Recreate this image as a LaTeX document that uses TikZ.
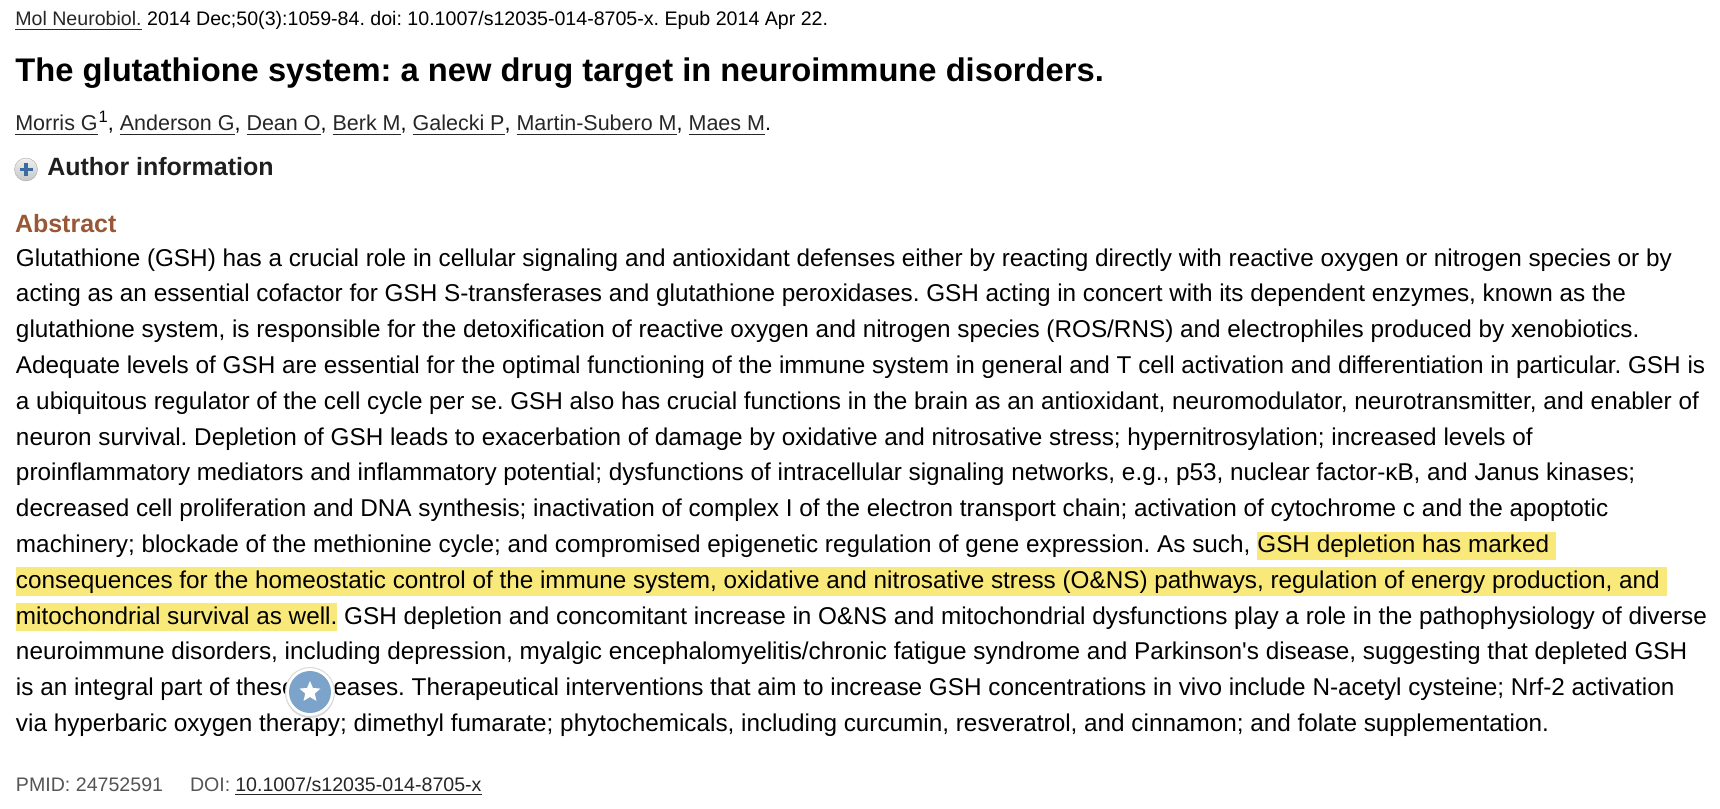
\documentclass[tikz,border=0pt]{standalone}
\usepackage{fontspec}
\setmainfont{Liberation Sans}[Ligatures=TeXOff]
\usetikzlibrary{shapes.geometric,shadows}
\definecolor{hl}{RGB}{249,233,122}
\definecolor{absbrown}{RGB}{152,87,53}
\definecolor{linkc}{RGB}{38,38,38}
\definecolor{greytxt}{RGB}{85,85,85}
\definecolor{badgeblue}{RGB}{124,163,201}
\definecolor{plusblue}{RGB}{58,108,160}
\frenchspacing
\begin{document}
\begin{tikzpicture}[x=1pt,y=-1pt,
  txt/.style={anchor=base west, inner sep=0pt, outer sep=0pt},
  jour/.style={txt, font=\fontsize{19.6}{19.6}\selectfont},
  ttl/.style={txt, font=\fontsize{32.7}{32.7}\selectfont\bfseries},
  auth/.style={txt, font=\fontsize{21.5}{21.5}\selectfont},
  head/.style={txt, font=\fontsize{25}{25}\selectfont\bfseries},
  body/.style={txt, font=\fontsize{24.3}{24.3}\selectfont},
  hilite/.style={body, fill=hl, text height=20.8pt, text depth=7.3pt},
  foot/.style={txt, font=\fontsize{19.6}{19.6}\selectfont},
  link/.style={text=linkc},
  ul/.style={draw=linkc, line width=1pt}
]
\useasboundingbox[fill=white] (0,0) rectangle (1720,808);

% journal line
\node[jour, link] (jl) at (15.3,26) {Mol Neurobiol.};
\draw[ul] ([yshift=-3.3pt]jl.base west) -- ([yshift=-3.3pt]jl.base east);
\node[jour] (jr) at (jl.base east) {~2014 Dec;50(3):1059-84. doi: 10.1007/s12035-014-8705-x. Epub 2014 Apr 22.};

% title
\node[ttl] (title) at (15.5,81.7) {The glutathione system: a new drug target in neuroimmune disorders.};

% authors
\node[auth, link] (a1) at (15.3,130) {Morris G};
\node[txt, font=\fontsize{16.5}{16.5}\selectfont] (a1s) at ([xshift=1pt,yshift=7.5pt]a1.base east) {1};
\node[auth] (c1) at (a1s.east |- a1.base) {,~\null};
\node[auth, link] (a2) at (c1.base east) {Anderson G};
\node[auth] (c2) at (a2.base east) {,~\null};
\node[auth, link] (a3) at (c2.base east) {Dean O};
\node[auth] (c3) at (a3.base east) {,~\null};
\node[auth, link] (a4) at (c3.base east) {Berk M};
\node[auth] (c4) at (a4.base east) {,~\null};
\node[auth, link] (a5) at (c4.base east) {Galecki P};
\node[auth] (c5) at (a5.base east) {,~\null};
\node[auth, link] (a6) at (c5.base east) {Martin-Subero M};
\node[auth] (c6) at (a6.base east) {,~\null};
\node[auth, link] (a7) at (c6.base east) {Maes M};
\node[auth] (c7) at (a7.base east) {.};
\foreach \n in {a1,a2,a3,a4,a5,a6,a7}
  \draw[ul] ([yshift=-4pt]\n.base west) -- ([yshift=-4pt]\n.base east);

% author information
\node[circle, draw=gray!65, top color=gray!12, bottom color=gray!45, minimum size=23pt, inner sep=0pt] (plusicon) at (26,169.5) {};
\draw[plusblue, line width=3.4pt] ([xshift=-6.5pt]plusicon.center) -- ([xshift=6.5pt]plusicon.center);
\draw[plusblue, line width=3.4pt] ([yshift=-6.5pt]plusicon.center) -- ([yshift=6.5pt]plusicon.center);
\node[head, text=black!88] (ai) at (47.3,175.7) {Author information};

% abstract heading
\node[head, text=absbrown] (abs) at (15,232) {Abstract};

% body
\node[body] (l1) at (16,266.0) {Glutathione (GSH) has a crucial role in cellular signaling and antioxidant defenses either by reacting directly with reactive oxygen or nitrogen species or by};
\node[body] (l2) at (16,301.8) {acting as an essential cofactor for GSH S-transferases and glutathione peroxidases. GSH acting in concert with its dependent enzymes, known as the};
\node[body] (l3) at (16,337.6) {glutathione system, is responsible for the detoxification of reactive oxygen and nitrogen species (ROS/RNS) and electrophiles produced by xenobiotics.};
\node[body] (l4) at (16,373.4) {Adequate levels of GSH are essential for the optimal functioning of the immune system in general and T cell activation and differentiation in particular. GSH is};
\node[body] (l5) at (16,409.2) {a ubiquitous regulator of the cell cycle per se. GSH also has crucial functions in the brain as an antioxidant, neuromodulator, neurotransmitter, and enabler of};
\node[body] (l6) at (16,445.0) {neuron survival. Depletion of GSH leads to exacerbation of damage by oxidative and nitrosative stress; hypernitrosylation; increased levels of};
\node[body] (l7) at (16,480.8) {proinflammatory mediators and inflammatory potential; dysfunctions of intracellular signaling networks, e.g., p53, nuclear factor-κB, and Janus kinases;};
\node[body] (l8) at (16,516.6) {decreased cell proliferation and DNA synthesis; inactivation of complex I of the electron transport chain; activation of cytochrome c and the apoptotic};
\node[body] (l9) at (16,552.4) {machinery; blockade of the methionine cycle; and compromised epigenetic regulation of gene expression. As such,~\null};
\node[hilite] (l9h) at (l9.base east) {GSH depletion has marked~\null};
\node[hilite] (l10) at (16,588.2) {consequences for the homeostatic control of the immune system, oxidative and nitrosative stress (O\&NS) pathways, regulation of energy production, and~\null};
\node[hilite] (l11h) at (16,624.0) {mitochondrial survival as well.};
\node[body] (l11) at (l11h.base east) {~GSH depletion and concomitant increase in O\&NS and mitochondrial dysfunctions play a role in the pathophysiology of diverse};
\node[body] (l12) at (16,659.8) {neuroimmune disorders, including depression, myalgic encephalomyelitis/chronic fatigue syndrome and Parkinson's disease, suggesting that depleted GSH};
\node[body] (l13) at (16,695.6) {is an integral part of these diseases. Therapeutical interventions that aim to increase GSH concentrations in vivo include N-acetyl cysteine; Nrf-2 activation};
\node[body] (l14) at (16,731.4) {via hyperbaric oxygen therapy; dimethyl fumarate; phytochemicals, including curcumin, resveratrol, and cinnamon; and folate supplementation.};

% footer
\node[foot, text=greytxt] (pmid) at (16,791.7) {PMID: 24752591};
\node[foot, text=greytxt] (doil) at (190,791.7) {DOI:};
\node[foot, link] (doi) at (235.3,791.7) {10.1007/s12035-014-8705-x};
\draw[ul] ([yshift=-3pt]doi.base west) -- ([yshift=-3pt]doi.base east);

% floating star badge
\node[circle, fill=white, draw=gray!30, line width=1pt, minimum size=49pt, inner sep=0pt,
      drop shadow={opacity=0.3, shadow xshift=0pt, shadow yshift=-1.5pt}] (badge) at (310,692) {};
\node[circle, fill=badgeblue, minimum size=42pt, inner sep=0pt] (badgein) at (badge.center) {};
\node[star, star points=5, star point ratio=2.2, fill=white, minimum size=22pt, inner sep=0pt] (badgestar) at (badge.center) {};
\end{tikzpicture}
\end{document}
